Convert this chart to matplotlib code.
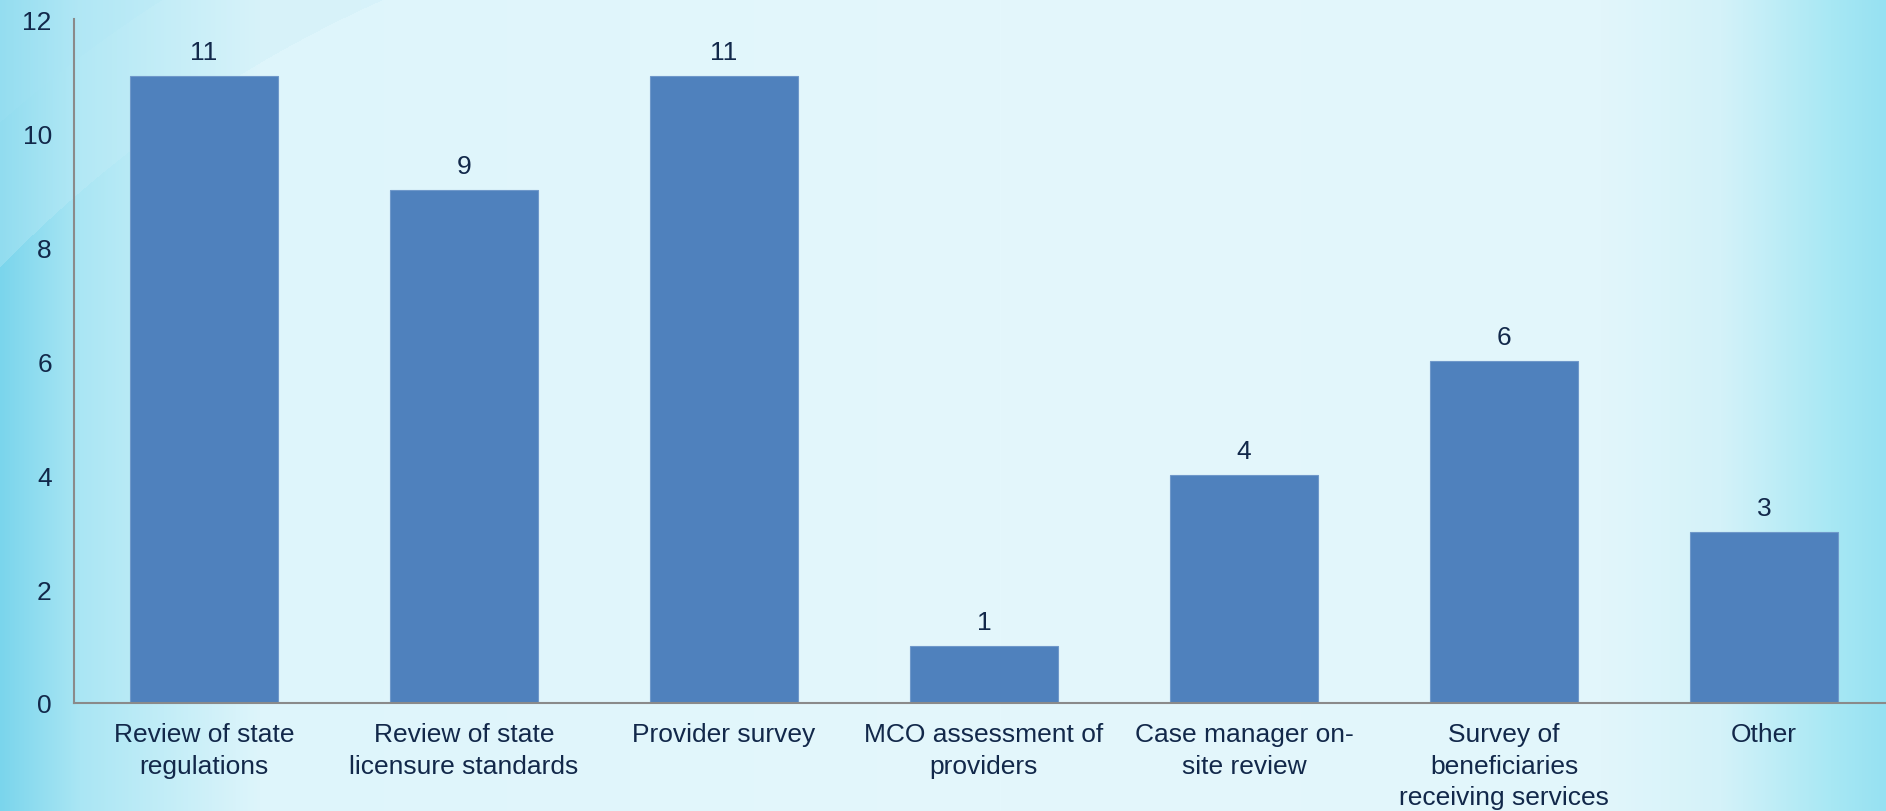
import numpy as np
import matplotlib
matplotlib.use('Agg')
import matplotlib.pyplot as plt

plt.rcParams['font.family'] = ['Liberation Sans', 'DejaVu Sans']

##chart data
categories = ['Review of state\nregulations', 'Review of state\nlicensure standards',
              'Provider survey', 'MCO assessment of\nproviders', 'Case manager on-\nsite review',
              'Survey of\nbeneficiaries\nreceiving services', 'Other']
counts = [11, 9, 11, 1, 4, 6, 3]
yticks = [0, 2, 4, 6, 8, 10, 12]

text_color = '#12284a'
bar_color = '#4f81bd'
fsize = 19

W, H = 1886, 812
fig = plt.figure(figsize=(W / 100, H / 100), dpi=100)

##background: light centre, cyan towards both edges, faint swoosh top left
xs = np.arange(W)
stops_x = [0, 80, 260, 1000, 1600, 1720, 1830, 1886]
stops_c = np.array([[122, 213, 236], [170, 230, 244], [222, 245, 251], [228, 247, 252],
                    [226, 246, 251], [212, 242, 249], [168, 232, 244], [150, 225, 242]]) / 255.0
row = np.stack([np.interp(xs, stops_x, stops_c[:, k]) for k in range(3)], axis=1)
bg = np.repeat(row[None, :, :], H, axis=0)
yy, xx = np.mgrid[0:H, 0:W]
d = np.hypot(xx - 880, yy - 1120)
corner = (d > 1225) & (xx < 880)
bg[corner] = bg[corner] * 0.7 + np.array([0.78, 0.93, 0.97]) * 0.3
inner = (d > 1330) & (xx < 880)
bg[inner] = bg[inner] * 0.85 + np.array([0.66, 0.89, 0.96]) * 0.15
bgax = fig.add_axes([0, 0, 1, 1])
bgax.imshow(bg, aspect='auto', extent=[0, 1, 0, 1])
bgax.axis('off')

##main bar chart
ax = fig.add_axes([74 / W, 108 / H, 1820 / W, 684 / H])
ax.patch.set_alpha(0)
x = np.arange(len(categories))
ax.bar(x, counts, width=0.573, color=bar_color, edgecolor='#6f98ca', linewidth=0.8, zorder=2)

for xi, v in zip(x, counts):
    ax.annotate(str(v), (xi, v), xytext=(0, 12.5), textcoords='offset points',
                ha='center', va='baseline', fontsize=fsize, color=text_color)

ax.set_xlim(-0.5, len(categories) - 0.5)
ax.set_ylim(0, 12)
ax.set_yticks(yticks)
ax.set_xticks(x)
ax.set_xticklabels(categories, fontsize=fsize, color=text_color, linespacing=1.38)
ax.tick_params(axis='y', length=0, pad=16, labelsize=fsize, labelcolor=text_color)
ax.tick_params(axis='x', length=0, pad=14)

for s in ['top', 'right']:
    ax.spines[s].set_visible(False)
for s in ['left', 'bottom']:
    ax.spines[s].set_color('#8a8a8a')
    ax.spines[s].set_linewidth(1.5)

plt.savefig('out.png', dpi=100)
